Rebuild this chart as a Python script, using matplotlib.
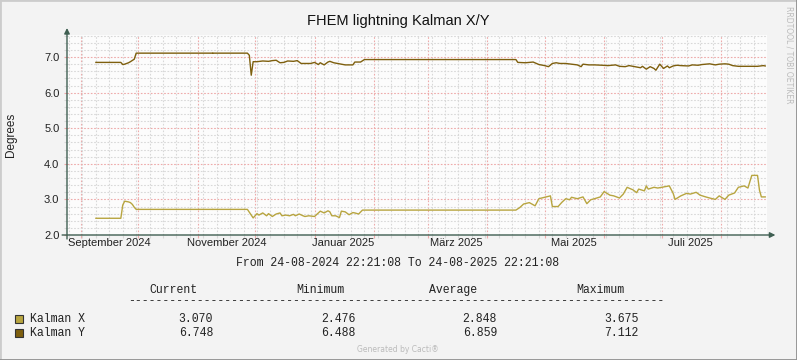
import numpy as np
import pandas as pd
import matplotlib
matplotlib.use("Agg")
import matplotlib.pyplot as plt
import matplotlib.dates as mdates
import matplotlib.ticker as mticker
from matplotlib.patches import Rectangle
from matplotlib.lines import Line2D

nan = np.nan

# Time range of the graph
start = pd.Timestamp("2024-08-24 22:21:08")
end = pd.Timestamp("2025-08-24 22:21:08")

# Kalman X (daily averages)
x_dates = ["2024-09-09", "2024-09-22", "2024-09-23", "2024-09-24", "2024-09-26", "2024-09-27",
           "2024-09-28", "2024-09-29", "2024-09-30", "2024-11-08 18:00", "2024-11-09 00:00", "2024-11-09 06:00",
           "2024-11-27", "2024-11-29", "2024-11-30", "2024-12-02", "2024-12-03", "2024-12-05",
           "2024-12-07", "2024-12-08", "2024-12-10", "2024-12-12", "2024-12-14", "2024-12-15",
           "2024-12-17", "2024-12-19", "2024-12-21", "2024-12-22", "2024-12-24", "2024-12-26",
           "2024-12-27", "2024-12-29", "2025-01-01", "2025-01-03", "2025-01-04", "2025-01-06",
           "2025-01-08", "2025-01-09", "2025-01-10", "2025-01-12", "2025-01-14", "2025-01-15",
           "2025-01-17", "2025-01-19", "2025-01-21", "2025-01-22", "2025-01-24", "2025-01-26",
           "2025-04-16", "2025-04-18", "2025-04-20", "2025-04-23", "2025-04-26", "2025-04-28",
           "2025-05-01", "2025-05-04", "2025-05-05", "2025-05-08", "2025-05-10", "2025-05-12",
           "2025-05-14", "2025-05-15", "2025-05-18", "2025-05-21", "2025-05-23", "2025-05-25",
           "2025-05-27", "2025-05-30", "2025-06-01", "2025-06-04", "2025-06-06", "2025-06-09",
           "2025-06-11", "2025-06-13", "2025-06-16", "2025-06-18", "2025-06-19", "2025-06-22",
           "2025-06-23", "2025-06-24", "2025-06-27", "2025-06-29", "2025-07-01", "2025-07-05",
           "2025-07-07", "2025-07-08", "2025-07-11", "2025-07-14", "2025-07-16", "2025-07-19",
           "2025-07-21", "2025-07-24", "2025-07-26", "2025-07-29", "2025-07-31", "2025-08-03",
           "2025-08-05", "2025-08-08", "2025-08-10", "2025-08-13", "2025-08-15", "2025-08-16",
           "2025-08-17", "2025-08-20", "2025-08-21", "2025-08-22", "2025-08-24"]
x_values = [2.47, 2.47, 2.84, 2.95, 2.93, 2.91,
            2.86, 2.78, 2.72, 2.72, nan, 2.72,
            2.72, 2.56, 2.48, 2.60, 2.56, 2.62,
            2.54, 2.60, 2.52, 2.59, 2.62, 2.54,
            2.56, 2.54, 2.58, 2.54, 2.59, 2.54,
            2.52, 2.54, 2.52, 2.62, 2.67, 2.62,
            2.68, 2.65, 2.54, 2.54, 2.49, 2.67,
            2.65, 2.57, 2.63, 2.62, 2.59, 2.70,
            2.70, 2.77, 2.87, 2.91, 2.82, 3.02,
            3.06, 3.10, 2.80, 2.80, 2.92, 3.02,
            2.99, 3.06, 3.02, 3.07, 2.88, 2.99,
            3.02, 3.07, 3.22, 3.12, 3.10, 3.04,
            3.15, 3.34, 3.27, 3.19, 3.29, 3.24,
            3.38, 3.29, 3.34, 3.32, 3.34, 3.38,
            3.17, 3.00, 3.10, 3.17, 3.15, 3.20,
            3.12, 3.07, 3.04, 3.00, 3.10, 3.00,
            3.12, 3.18, 3.34, 3.38, 3.32, 3.50,
            3.675, 3.675, 3.26, 3.07, 3.07]

# Kalman Y
y_dates = ["2024-09-09", "2024-09-22", "2024-09-23", "2024-09-24", "2024-09-26", "2024-09-27",
           "2024-09-29", "2024-09-30", "2024-11-08 18:00", "2024-11-09 00:00", "2024-11-09 06:00", "2024-11-27",
           "2024-11-28", "2024-11-29", "2024-11-30", "2024-12-02", "2024-12-05", "2024-12-08",
           "2024-12-10", "2024-12-12", "2024-12-14", "2024-12-16", "2024-12-18", "2024-12-21",
           "2024-12-23", "2024-12-25", "2024-12-27", "2024-12-30", "2025-01-01", "2025-01-03",
           "2025-01-04", "2025-01-06", "2025-01-08", "2025-01-09", "2025-01-11", "2025-01-13",
           "2025-01-15", "2025-01-17", "2025-01-21", "2025-01-22", "2025-01-25", "2025-01-27",
           "2025-04-16", "2025-04-17", "2025-04-21", "2025-04-23", "2025-04-25", "2025-04-28",
           "2025-05-01", "2025-05-03", "2025-05-05", "2025-05-07", "2025-05-09", "2025-05-12",
           "2025-05-15", "2025-05-18", "2025-05-20", "2025-05-21", "2025-05-24", "2025-05-27",
           "2025-05-31", "2025-06-03", "2025-06-07", "2025-06-09", "2025-06-12", "2025-06-14",
           "2025-06-17", "2025-06-20", "2025-06-21", "2025-06-23", "2025-06-25", "2025-06-27",
           "2025-06-28", "2025-06-30", "2025-07-02", "2025-07-04", "2025-07-05", "2025-07-07",
           "2025-07-09", "2025-07-11", "2025-07-15", "2025-07-17", "2025-07-20", "2025-07-22",
           "2025-07-26", "2025-07-29", "2025-07-31", "2025-08-03", "2025-08-05", "2025-08-07",
           "2025-08-10", "2025-08-13", "2025-08-17", "2025-08-20", "2025-08-23", "2025-08-24"]
y_values = [6.85, 6.85, 6.79, 6.80, 6.84, 6.87,
            6.94, 7.11, 7.11, nan, 7.11, 7.11,
            7.05, 6.49, 6.87, 6.87, 6.89, 6.88,
            6.90, 6.91, 6.84, 6.85, 6.89, 6.88,
            6.90, 6.82, 6.82, 6.82, 6.85, 6.79,
            6.84, 6.78, 6.86, 6.88, 6.84, 6.82,
            6.80, 6.78, 6.78, 6.86, 6.86, 6.93,
            6.93, 6.85, 6.84, 6.85, 6.86, 6.79,
            6.76, 6.73, 6.82, 6.84, 6.82, 6.82,
            6.80, 6.78, 6.73, 6.80, 6.78, 6.78,
            6.77, 6.76, 6.78, 6.74, 6.73, 6.76,
            6.73, 6.70, 6.74, 6.66, 6.73, 6.68,
            6.63, 6.80, 6.68, 6.75, 6.70, 6.75,
            6.77, 6.76, 6.75, 6.78, 6.77, 6.79,
            6.81, 6.78, 6.80, 6.81, 6.80, 6.76,
            6.74, 6.74, 6.74, 6.74, 6.76, 6.75]

# Month labels (German), centred on the middle of the month
label_months = ["2024-09-01", "2024-11-01", "2025-01-01", "2025-03-01", "2025-05-01", "2025-07-01"]
label_texts = ["September 2024", "November 2024", "Januar 2025", "März 2025", "Mai 2025", "Juli 2025"]

# Legend statistics
series_names = ["Kalman X", "Kalman Y"]
stat_headers = ["Current", "Minimum", "Average", "Maximum"]
stat_x = ["3.070", "2.476", "2.848", "3.675"]
stat_y = ["6.748", "6.488", "6.859", "7.112"]

col_x = "#B8A540"
col_y = "#7E5F0E"
axis_col = "#3F5F52"
major_col = "#EEAAAA"
minor_col = "#D8D8D8"

W, H = 797, 360
fig = plt.figure(figsize=(W / 100, H / 100), dpi=100, facecolor="#F3F3F3")
ax = fig.add_axes([67 / W, 1 - 235 / H, 700 / W, 200 / H])
ax.set_facecolor("#FCFCFC")

ax.plot(pd.to_datetime(x_dates, format="ISO8601"), x_values, color=col_x, lw=1.0, zorder=3)
ax.plot(pd.to_datetime(y_dates, format="ISO8601"), y_values, color=col_y, lw=1.0, zorder=3)

ax.set_xlim(start, end)
ax.set_ylim(2.0, 7.62)

# grid: monthly (red) and weekly (grey) lines, 1.0 / 0.2 on y
ax.xaxis.set_major_locator(mdates.MonthLocator())
ax.xaxis.set_minor_locator(mdates.WeekdayLocator(byweekday=mdates.MO))
ax.xaxis.set_major_formatter(mticker.NullFormatter())
ax.yaxis.set_major_locator(mticker.MultipleLocator(1.0))
ax.yaxis.set_minor_locator(mticker.MultipleLocator(0.2))
ax.yaxis.set_major_formatter(mticker.FormatStrFormatter("%.1f"))
ax.grid(which="minor", color=minor_col, lw=0.8, linestyle=(0, (1.5, 1.5)), zorder=0)
ax.grid(which="major", color=major_col, lw=0.8, linestyle=(0, (1.5, 1.5)), zorder=1)
ax.set_axisbelow(True)
ax.tick_params(which="major", length=2.5, width=0.8, color=major_col, direction="out",
               labelsize=8, labelcolor="#222222", pad=3)
ax.tick_params(which="minor", length=2, width=0.8, color=minor_col, direction="out")
for lbl in ax.get_yticklabels():
    lbl.set_fontfamily("Liberation Sans")
for s in ax.spines.values():
    s.set_visible(False)

for m, t in zip(label_months, label_texts):
    pos = pd.Timestamp(m) + pd.Timedelta(days=15)
    ax.text(pos, -0.04, t, transform=ax.get_xaxis_transform(), ha="center", va="center",
            fontsize=8, family="Liberation Sans", color="#222222")

# axes with arrows
ax.annotate("", xy=(0, 1.035), xytext=(0, -0.02), xycoords="axes fraction",
            arrowprops=dict(arrowstyle="-|>", color=axis_col, lw=1.0, mutation_scale=8,
                            shrinkA=0, shrinkB=0))
ax.annotate("", xy=(1.012, 0), xytext=(-0.007, 0), xycoords="axes fraction",
            arrowprops=dict(arrowstyle="-|>", color=axis_col, lw=1.0, mutation_scale=8,
                            shrinkA=0, shrinkB=0))

ax.set_ylabel("Degrees", fontsize=8.5, family="Liberation Sans", color="#222222")
ax.yaxis.set_label_coords(-50 / 700, 0.5)

fig.text(398 / W, 1 - 21 / H, "FHEM lightning Kalman X/Y", ha="center", va="center",
         fontsize=10.5, family="Liberation Sans", color="#111111")
fig.text(789 / W, 1 - 55 / H, "RRDTOOL / TOBI OETIKER", rotation=270, ha="center", va="center",
         fontsize=5.5, family="DejaVu Sans", color="#BBBBBB")
fig.text(398 / W, 1 - 350 / H, "Generated by Cacti®", ha="center", va="center",
         fontsize=5.5, family="DejaVu Sans", color="#BBBBBB")

mono = dict(family="Liberation Mono", fontsize=8.3, color="#222222", va="center")
fig.text(398 / W, 1 - 263 / H, "From 24-08-2024 22:21:08 To 24-08-2025 22:21:08", ha="center", **mono)
for hx, h in zip([173, 320, 453, 600], stat_headers):
    fig.text(hx / W, 1 - 290 / H, h, ha="center", **mono)
fig.text(128 / W, 1 - 301 / H, "-" * 78, ha="left", **mono)

rows = [(319, col_x, stat_x), (333, col_y, stat_y)]
for (ry, c, vals), name in zip(rows, series_names):
    fig.add_artist(Rectangle((15 / W, 1 - (ry + 4) / H), 8 / W, 8 / H, transform=fig.transFigure,
                             facecolor=c, edgecolor="#333333", lw=0.8))
    fig.text(30 / W, 1 - ry / H, name, ha="left", **mono)
    for vx, v in zip([213, 356, 497, 639], vals):
        fig.text(vx / W, 1 - ry / H, v, ha="right", **mono)

# 3D style border
fig.add_artist(Line2D([0, 0, 1], [0, 1, 1], transform=fig.transFigure, color="#CCCCCC", lw=2))
fig.add_artist(Line2D([0, 1, 1], [0, 0, 1], transform=fig.transFigure, color="#8F8F8F", lw=2))

fig.savefig("out.png", dpi=100, facecolor=fig.get_facecolor())
plt.close(fig)
